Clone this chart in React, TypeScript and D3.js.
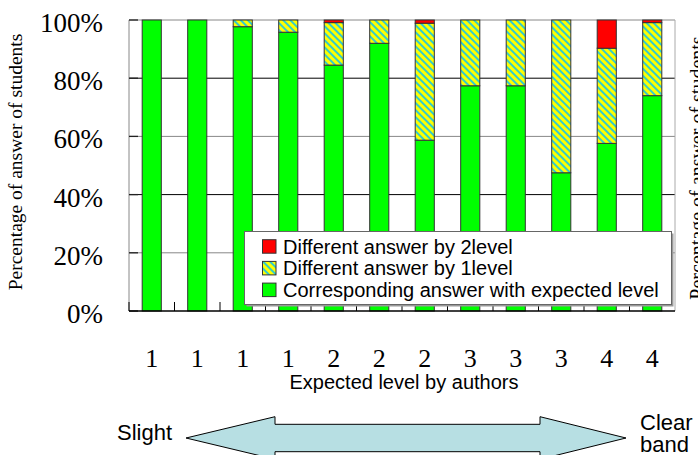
import React from "react";
import * as d3 from "d3";

const categories = ["1", "1", "1", "1", "2", "2", "2", "3", "3", "3", "4", "4"];
const correct = [100, 100, 97.7, 95.8, 84.5, 92.0, 58.7, 77.4, 77.4, 47.5, 57.6, 74.0];
const oneLevel = [0, 0, 2.3, 4.2, 14.6, 8.0, 40.2, 22.6, 22.6, 52.5, 32.7, 25.1];
const twoLevel = [0, 0, 0, 0, 0.9, 0, 1.1, 0, 0, 0, 9.7, 0.9];
const yTicks = [0, 20, 40, 60, 80, 100];
const seriesKeys = ["correct", "oneLevel", "twoLevel"];
const legendLabels = [
  "Different answer by 2level",
  "Different answer by 1level",
  "Corresponding answer with expected level",
];

const W = 698;
const H = 455;
const L = 129, R = 675, T = 20, B = 311;
const SERIF = "'Liberation Serif', 'Times New Roman', serif";
const SANS = "'Liberation Sans', Arial, sans-serif";
const fills: Record<string, string> = {
  correct: "#00ff00",
  oneLevel: "url(#hatch)",
  twoLevel: "#ff0000",
};

export default function App() {
  const idx = categories.map((_, i) => String(i));
  const x = d3.scaleBand().domain(idx).range([L, R]).paddingInner(0.58).paddingOuter(0.29);
  const slot = d3.scaleBand().domain(idx).range([L, R]).padding(0);
  const y = d3.scaleLinear().domain([0, 100]).range([B, T]);

  const rows = categories.map((c, i) => ({
    key: String(i),
    correct: correct[i],
    oneLevel: oneLevel[i],
    twoLevel: twoLevel[i],
  }));
  const stacked = d3.stack<any>().keys(seriesKeys)(rows);

  const gridColor = (v: number) => (v === 80 || v === 40 ? "#000" : "#888");

  const legendX = 244.5, legendY = 231.5, legendW = 427, legendH = 73;
  const legendFills = ["#ff0000", "url(#hatch)", "#00ff00"];

  // arrow geometry
  const ay = 438;
  const aL = 186, aR = 626, hL = 275, hR = 540;
  const shaftH = 13.7, headH = 21.3;
  const arrowPath = [
    [aL, ay], [hL, ay - headH], [hL, ay - shaftH], [hR, ay - shaftH], [hR, ay - headH],
    [aR, ay], [hR, ay + headH], [hR, ay + shaftH], [hL, ay + shaftH], [hL, ay + headH],
  ];
  const line = d3.line();

  return (
    <svg width={W} height={H} style={{ position: "absolute", left: 0, top: 0, background: "#fff" }}>
      <defs>
        <pattern id="hatch" width={5} height={5} patternUnits="userSpaceOnUse" patternTransform="rotate(-45)">
          <rect width={5} height={5} fill="#ffff00" />
          <rect width={2} height={5} fill="#33cccc" />
        </pattern>
      </defs>

      {/* grid */}
      {yTicks.filter((v) => v > 0).map((v) => (
        <line key={v} x1={L} x2={R} y1={y(v)} y2={y(v)} stroke={gridColor(v)} strokeWidth={1} />
      ))}
      <line x1={L} x2={L} y1={T} y2={B} stroke="#888" />
      <line x1={R} x2={R} y1={T} y2={B} stroke="#aaa" />
      {yTicks.map((v) => (
        <line key={"t" + v} x1={L} x2={L + 9} y1={y(v)} y2={y(v)} stroke="#222" strokeWidth={1.3} />
      ))}

      {/* bars */}
      {stacked.map((s) => (
        <g key={s.key}>
          {s.map((d, i) =>
            d[1] - d[0] > 0 ? (
              <rect
                key={i}
                x={x(String(i))!}
                width={x.bandwidth()}
                y={y(d[1])}
                height={y(d[0]) - y(d[1])}
                fill={fills[s.key]}
                stroke="#333"
                strokeWidth={1}
              />
            ) : null
          )}
        </g>
      ))}

      {/* bottom axis */}
      {idx.map((k) => (
        <line key={"xt" + k} x1={slot(k)!} x2={slot(k)!} y1={B} y2={B - 9} stroke="#000" />
      ))}
      <line x1={L} x2={R} y1={B} y2={B} stroke="#000" strokeWidth={1.5} />

      {/* y tick labels */}
      {yTicks.map((v) => (
        <text key={"yl" + v} x={103} y={y(v) + 12} textAnchor="end" fontFamily={SERIF} fontSize={27} fill="#000">
          {v}%
        </text>
      ))}

      {/* x tick labels */}
      {categories.map((c, i) => (
        <text key={"xl" + i} x={x(String(i))! + x.bandwidth() / 2} y={367} textAnchor="middle" fontFamily={SERIF} fontSize={26} fill="#000">
          {c}
        </text>
      ))}

      <text x={404} y={389} textAnchor="middle" fontFamily={SANS} fontSize={20} fill="#000">
        Expected level by authors
      </text>

      <text transform={`translate(21.5,162) rotate(-90)`} textAnchor="middle" fontFamily={SERIF} fontSize={19.5} fill="#000">
        Percentage of answer of students
      </text>
      <text transform={`translate(704,168) rotate(-90)`} textAnchor="middle" fontFamily={SERIF} fontSize={20} fill="#000">
        Percentage of answer of students
      </text>

      {/* legend */}
      <rect x={legendX + 2} y={legendY + 2} width={legendW} height={legendH} fill="#999" />
      <rect x={legendX} y={legendY} width={legendW} height={legendH} fill="#fff" stroke="#666" strokeWidth={1} />
      {legendLabels.map((lab, i) => {
        const cy = 246.7 + i * 21.7;
        return (
          <g key={lab}>
            <rect x={262.5} y={cy - 7} width={13.5} height={13.5} fill={legendFills[i]} stroke="#333" />
            <text x={283} y={cy + 7} fontFamily={SANS} fontSize={20} fill="#000">
              {lab}
            </text>
          </g>
        );
      })}

      {/* arrow */}
      <path d={line(arrowPath as [number, number][])! + "Z"} fill="#b7dfe3" stroke="#000" strokeWidth={1} />
      <text x={117} y={440} fontFamily={SANS} fontSize={22} fill="#000">Slight</text>
      <text x={640} y={430} fontFamily={SANS} fontSize={22} fill="#000">Clear</text>
      <text x={640} y={452} fontFamily={SANS} fontSize={22} fill="#000">band</text>
    </svg>
  );
}
